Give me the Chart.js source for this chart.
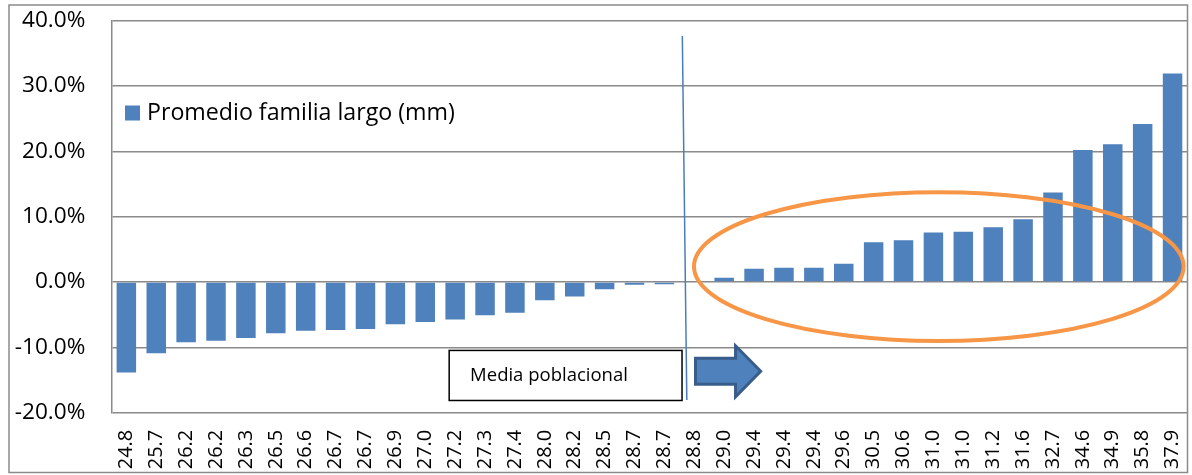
<!DOCTYPE html>
<html>
<head>
<meta charset="utf-8">
<script src="https://cdn.jsdelivr.net/npm/chart.js@4.4.1/dist/chart.umd.min.js"></script>
<style>
  html, body { margin: 0; padding: 0; background: #fff; overflow: hidden; }
  #wrap { width: 1192px; height: 475px; position: relative; }
</style>
</head>
<body>
<div id="wrap"><canvas id="chart" width="1192" height="475"></canvas></div>
<script>
// Family mean length (mm), sorted, and its deviation from the population mean
const categories = [
  '24.8', '25.7', '26.2', '26.2', '26.3', '26.5', '26.6', '26.7', '26.7',
  '26.9', '27.0', '27.2', '27.3', '27.4', '28.0', '28.2', '28.5', '28.7',
  '28.7', '28.8', '29.0', '29.4', '29.4', '29.4', '29.6', '30.5', '30.6',
  '31.0', '31.0', '31.2', '31.6', '32.7', '34.6', '34.9', '35.8', '37.9'
];
const deviation = [
  -0.1385, -0.1090, -0.0920, -0.0900, -0.0855, -0.0785, -0.0745, -0.0735, -0.0720,
  -0.0645, -0.0610, -0.0575, -0.0510, -0.0470, -0.0280, -0.0220, -0.0110, -0.0040,
  -0.0035,  0.0000,  0.0066,  0.0204,  0.0219,  0.0220,  0.0280,  0.0610,  0.0640,
   0.0760,  0.0770,  0.0840,  0.0960,  0.1370,  0.2020,  0.2110,  0.2420,  0.3190
];
const seriesName = 'Promedio familia largo (mm)';
const yTicks = [-0.2, -0.1, 0.0, 0.1, 0.2, 0.3, 0.4];
const calloutText = 'Media poblacional';

// Callout shapes, placed in axis units (category index / fraction)
const meanLine = { xTop: 18.60, xBottom: 18.75, yTop: 0.3765, yBottom: -0.1806 };
const calloutBox = { x0: 10.80, x1: 18.59, y0: -0.1047, y1: -0.1813, textX: 11.50 };
const arrowShape = { tail: 19.04, headBase: 20.38, tip: 21.22, yMid: -0.1366, shaftHalf: 0.0199, headHalf: 0.039 };
const highlight = { cx: 27.18, cy: 0.0237, rx: 8.19, ry: 0.1138 };
const legendPos = { dx: 13.6, y: 0.2587 };

const FONT = '"Open Sans", "Liberation Sans", sans-serif';
const GRID = '#8a8a8a';
const BAR = '#4f81bd';

// remove the extra room Chart.js reserves for overhanging tick labels
function clearScalePadding(scale) {
  scale.paddingLeft = 0;
  scale.paddingRight = 0;
  scale.paddingTop = 0;
  scale.paddingBottom = 0;
}

const framePlugin = {
  id: 'frame',
  beforeDraw(chart) {
    const ctx = chart.ctx;
    ctx.save();
    ctx.fillStyle = '#ffffff';
    ctx.fillRect(0, 0, chart.width, chart.height);
    ctx.restore();
  },
  afterDraw(chart) {
    const ctx = chart.ctx;
    ctx.save();
    ctx.strokeStyle = GRID;
    ctx.lineWidth = 1.5;
    ctx.strokeRect(9, 5, chart.width - 13.5, chart.height - 7.5);
    ctx.restore();
  }
};

const calloutPlugin = {
  id: 'callouts',
  afterDatasetsDraw(chart) {
    const ctx = chart.ctx;
    const xs = chart.scales.x, ys = chart.scales.y;
    const px = v => xs.getPixelForValue(v);
    const py = v => ys.getPixelForValue(v);
    ctx.save();

    // population mean marker
    ctx.strokeStyle = '#4a7ebb';
    ctx.lineWidth = 1.5;
    ctx.beginPath();
    ctx.moveTo(px(meanLine.xTop), py(meanLine.yTop));
    ctx.lineTo(px(meanLine.xBottom), py(meanLine.yBottom));
    ctx.stroke();

    // text box
    const bx0 = px(calloutBox.x0), bx1 = px(calloutBox.x1);
    const by0 = py(calloutBox.y0), by1 = py(calloutBox.y1);
    ctx.fillStyle = '#ffffff';
    ctx.fillRect(bx0, by0, bx1 - bx0, by1 - by0);
    ctx.strokeStyle = '#000000';
    ctx.lineWidth = 1.5;
    ctx.strokeRect(bx0, by0, bx1 - bx0, by1 - by0);
    ctx.fillStyle = '#000000';
    ctx.font = '18.5px ' + FONT;
    ctx.textAlign = 'left';
    ctx.textBaseline = 'middle';
    ctx.fillText(calloutText, px(calloutBox.textX), (by0 + by1) / 2);

    // block arrow
    const a = arrowShape;
    const ym = py(a.yMid);
    const sh = py(a.yMid - a.shaftHalf) - ym;
    const hh = py(a.yMid - a.headHalf) - ym;
    ctx.beginPath();
    ctx.moveTo(px(a.tail), ym - sh);
    ctx.lineTo(px(a.headBase), ym - sh);
    ctx.lineTo(px(a.headBase), ym - hh);
    ctx.lineTo(px(a.tip), ym);
    ctx.lineTo(px(a.headBase), ym + hh);
    ctx.lineTo(px(a.headBase), ym + sh);
    ctx.lineTo(px(a.tail), ym + sh);
    ctx.closePath();
    ctx.fillStyle = '#4f81bd';
    ctx.fill();
    ctx.strokeStyle = '#385d8a';
    ctx.lineWidth = 3;
    ctx.lineJoin = 'miter';
    ctx.stroke();

    // highlight ellipse around the above-mean families
    const h = highlight;
    const cx = px(h.cx), cy = py(h.cy);
    ctx.beginPath();
    ctx.ellipse(cx, cy, px(h.cx + h.rx) - cx, cy - py(h.cy + h.ry), 0, 0, Math.PI * 2);
    ctx.strokeStyle = '#f79646';
    ctx.lineWidth = 4;
    ctx.stroke();

    ctx.restore();
  },
  afterDraw(chart) {
    // legend inside the plot area
    const ctx = chart.ctx;
    const ds = chart.data.datasets[0];
    const x0 = chart.chartArea.left + legendPos.dx;
    const yc = chart.scales.y.getPixelForValue(legendPos.y);
    ctx.save();
    ctx.fillStyle = ds.backgroundColor;
    ctx.fillRect(x0, yc - 7.5, 15, 15);
    ctx.fillStyle = '#000000';
    ctx.font = '23.2px ' + FONT;
    ctx.textAlign = 'left';
    ctx.textBaseline = 'middle';
    ctx.fillText(ds.label, x0 + 22, yc);
    ctx.restore();
  }
};

new Chart(document.getElementById('chart'), {
  type: 'bar',
  data: {
    labels: categories,
    datasets: [{
      label: seriesName,
      data: deviation,
      backgroundColor: BAR,
      borderWidth: 0,
      barPercentage: 0.652,
      categoryPercentage: 1.0
    }]
  },
  options: {
    responsive: false,
    devicePixelRatio: 1,
    animation: false,
    events: [],
    layout: { padding: { left: 0, right: 4.5, top: 20.7, bottom: 0 } },
    plugins: {
      legend: { display: false },
      tooltip: { enabled: false },
      title: { display: false }
    },
    scales: {
      x: {
        type: 'category',
        offset: true,
        grid: { display: false, drawTicks: false },
        border: { display: false },
        ticks: {
          autoSkip: false,
          minRotation: 90,
          maxRotation: 90,
          padding: 17,
          color: '#000000',
          font: { family: FONT, size: 20 }
        },
        afterFit(scale) { scale.height = 62.3; clearScalePadding(scale); }
      },
      y: {
        min: -0.2,
        max: 0.4,
        grid: { color: GRID, lineWidth: 1.5, drawTicks: false },
        border: { display: true, color: GRID, width: 1.5 },
        ticks: {
          padding: 26,
          color: '#000000',
          font: { family: FONT, size: 22.6 },
          callback: v => (v * 100).toFixed(1) + '%'
        },
        afterBuildTicks(scale) { scale.ticks = yTicks.map(v => ({ value: v })); },
        afterFit(scale) { scale.width = 111.4; clearScalePadding(scale); }
      }
    }
  },
  plugins: [framePlugin, calloutPlugin]
});
</script>
</body>
</html>
